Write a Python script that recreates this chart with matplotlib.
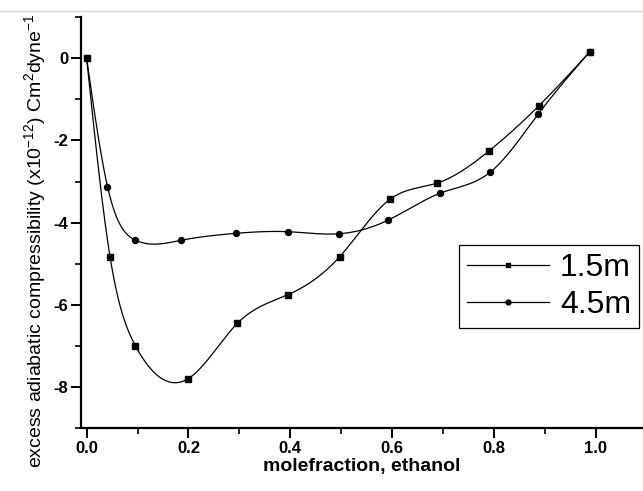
import numpy as np
import matplotlib
matplotlib.use("Agg")
import matplotlib.pyplot as plt
from matplotlib.lines import Line2D
from matplotlib import font_manager

plt.rcParams['font.family'] = ['Liberation Sans', 'DejaVu Sans']
plt.rcParams['axes.unicode_minus'] = False
plt.rcParams['mathtext.fontset'] = 'custom'
plt.rcParams['mathtext.rm'] = 'Liberation Sans'
plt.rcParams['mathtext.it'] = 'Liberation Sans:italic'

# values
x_15 = [0.0, 0.046, 0.096, 0.199, 0.296, 0.396, 0.497, 0.596, 0.688, 0.790, 0.889, 0.988]
y_15 = [0.0, -4.83, -7.00, -7.80, -6.45, -5.75, -4.83, -3.43, -3.04, -2.26, -1.15, 0.15]

x_45 = [0.0, 0.041, 0.095, 0.185, 0.293, 0.396, 0.496, 0.592, 0.695, 0.793, 0.887, 0.988]
y_45 = [0.0, -3.12, -4.42, -4.43, -4.26, -4.22, -4.27, -3.94, -3.28, -2.77, -1.36, 0.15]

labels = ["1.5m", "4.5m"]
x_ticks = [0.0, 0.2, 0.4, 0.6, 0.8, 1.0]
y_ticks = [0, -2, -4, -6, -8]


def spline(x, y, n=500):
    # natural cubic spline, like the smooth connecting line in Origin
    x = np.asarray(x, float)
    y = np.asarray(y, float)
    h = np.diff(x)
    m = len(x)
    A = np.zeros((m, m))
    r = np.zeros(m)
    A[0, 0] = A[-1, -1] = 1
    for i in range(1, m - 1):
        A[i, i - 1] = h[i - 1]
        A[i, i] = 2 * (h[i - 1] + h[i])
        A[i, i + 1] = h[i]
        r[i] = 6 * ((y[i + 1] - y[i]) / h[i] - (y[i] - y[i - 1]) / h[i - 1])
    M = np.linalg.solve(A, r)
    xs = np.linspace(x[0], x[-1], n)
    idx = np.clip(np.searchsorted(x, xs) - 1, 0, m - 2)
    x0, x1 = x[idx], x[idx + 1]
    hh = x1 - x0
    a = (x1 - xs) / hh
    b = (xs - x0) / hh
    ys = a * y[idx] + b * y[idx + 1] + ((a**3 - a) * M[idx] + (b**3 - b) * M[idx + 1]) * hh**2 / 6
    return xs, ys


# the y label in the scan looks condensed; use the narrow face if it is there
names = {f.name for f in font_manager.fontManager.ttflist}
if 'Liberation Sans Narrow' in names:
    ylab_font, ylab_size = 'Liberation Sans Narrow', 17
else:
    ylab_font, ylab_size = 'Liberation Sans', 14

fig = plt.figure(figsize=(6.43, 4.91), dpi=100)
ax = fig.add_axes([0.126, 0.128, 0.874, 0.837])

for xv, yv, mk in [(x_15, y_15, 's'), (x_45, y_45, 'o')]:
    xs, ys = spline(xv, yv)
    ax.plot(xs, ys, color='black', lw=0.9)
    ax.plot(xv, yv, ls='none', marker=mk, ms=4.3, color='black')

ax.set_xlim(-0.011, 1.093)
ax.set_ylim(-9, 1)
ax.set_xticks(x_ticks)
ax.set_xticklabels([f"{t:.1f}" for t in x_ticks])
ax.set_xticks(np.arange(0.1, 1.1, 0.2), minor=True)
ax.set_yticks(y_ticks)
ax.set_yticklabels([str(t) for t in y_ticks])
ax.set_yticks(np.arange(-9, 1.5, 2), minor=True)

for s in ['top', 'right']:
    ax.spines[s].set_visible(False)
for s in ['left', 'bottom']:
    ax.spines[s].set_linewidth(1.6)

ax.tick_params(which='major', direction='out', length=7, width=1.4,
               labelsize=12, pad=2)
ax.tick_params(which='minor', direction='out', length=4, width=1.2)
for lab in ax.get_xticklabels() + ax.get_yticklabels():
    lab.set_fontweight('bold')

ax.set_xlabel("molefraction, ethanol", fontsize=14, fontweight='bold', labelpad=2)
ax.set_ylabel("excess adiabatic compressibility (x10$^{-12}$) Cm$^2$dyne$^{-1}$",
              fontsize=ylab_size, family=ylab_font)
ax.yaxis.set_label_coords(-0.058, 0.457)

handles = [Line2D([], [], color='black', lw=0.9, marker='s', ms=3.5),
           Line2D([], [], color='black', lw=0.9, marker='o', ms=3.5)]
leg = ax.legend(handles, labels, loc='upper right', bbox_to_anchor=(0.993, 0.445),
                borderaxespad=0, fontsize=23, handlelength=2.55, handletextpad=0.35,
                labelspacing=0.22, borderpad=0.25, fancybox=False, framealpha=1)
leg.get_frame().set_edgecolor('black')
leg.get_frame().set_linewidth(0.9)

# faint scan line across the top of the page
fig.add_artist(Line2D([0, 1], [0.978, 0.978], color='#d8d8d8', lw=1))

fig.savefig("out.png", dpi=100)
